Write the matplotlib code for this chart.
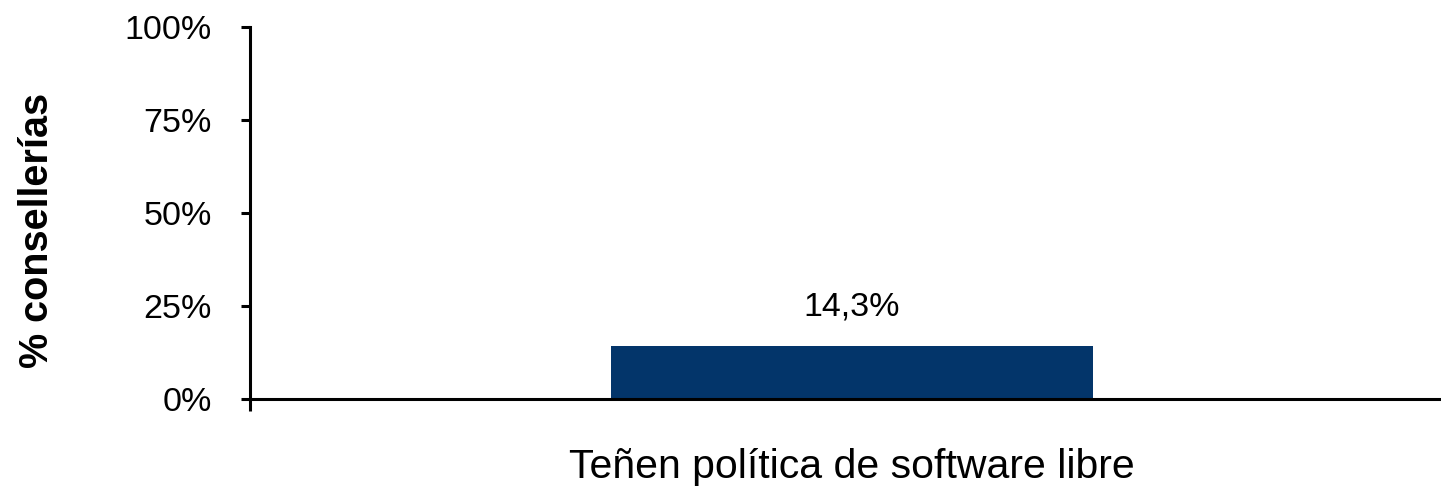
import matplotlib.pyplot as plt
from matplotlib.ticker import PercentFormatter

plt.rcParams['font.family'] = ['Liberation Sans', 'DejaVu Sans']

categories = ['Teñen política de software libre']
values = [0.143]
value_labels = ['14,3%']
yticks = [0, 0.25, 0.5, 0.75, 1.0]

fig = plt.figure(figsize=(14.41, 4.86), dpi=100)
ax = fig.add_axes([0.1735, 0.179, 0.8355, 0.765])

bars = ax.bar(range(len(categories)), values, width=0.4, color='#03356a', zorder=2)
for b, lab in zip(bars, value_labels):
    ax.annotate(lab, (b.get_x() + b.get_width() / 2, b.get_height()),
                xytext=(0, 17), textcoords='offset points',
                ha='center', va='bottom', fontsize=24.5)

ax.set_xlim(-0.5, 0.5)
ax.set_ylim(0, 1)
ax.set_yticks(yticks)
ax.yaxis.set_major_formatter(PercentFormatter(1.0, decimals=0))
ax.set_xticks(range(len(categories)))
ax.set_xticklabels(categories, fontsize=29.5)
ax.set_xticks([-0.5], minor=True)

for s in ['top', 'right']:
    ax.spines[s].set_visible(False)
for s in ['left', 'bottom']:
    ax.spines[s].set_linewidth(2.2)

ax.tick_params(axis='y', direction='out', length=6.5, width=2.2, pad=21, labelsize=24.5)
ax.tick_params(axis='x', which='major', length=0, pad=35)
ax.tick_params(axis='x', which='minor', direction='out', length=8.6, width=2.2)

ax.set_ylabel('% consellerías', fontsize=28.5, fontweight='bold')
ax.yaxis.set_label_coords(-0.161, 0.454)

fig.savefig('out.png', dpi=100)
